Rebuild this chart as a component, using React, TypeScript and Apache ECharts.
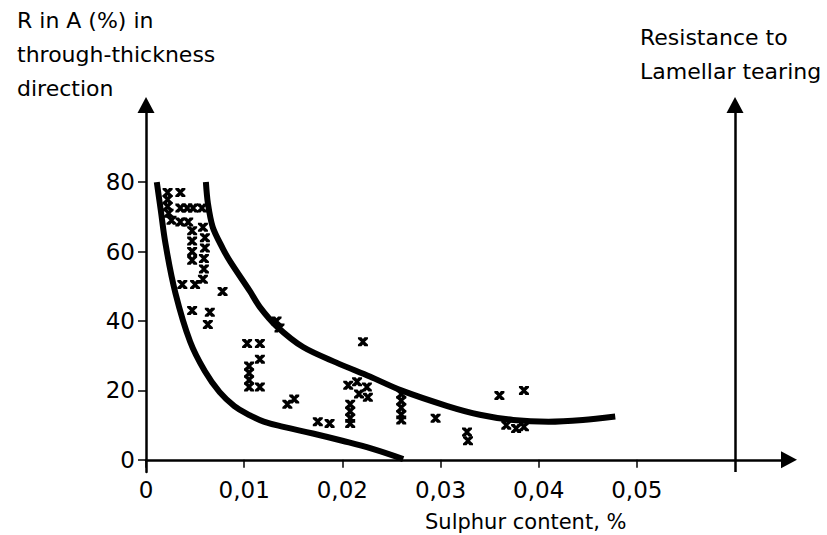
import React, { useEffect, useRef } from "react";
import * as echarts from "echarts";

const xTicks = [0, 0.01, 0.02, 0.03, 0.04, 0.05];
const yTicks = [0, 20, 40, 60, 80];
const tearingAxisX = 0.06;

const lowerCurve: [number, number][] = [
  [0.0011, 80], [0.0015, 72], [0.002, 62], [0.003, 48], [0.0045, 34],
  [0.006, 25.5], [0.0075, 19.5], [0.009, 15.5], [0.0106, 12.8], [0.012, 11],
  [0.014, 9.5], [0.017, 7.6], [0.02, 5.5], [0.023, 3.2], [0.0262, 0.2],
];

const upperCurve: [number, number][] = [
  [0.0061, 80], [0.0063, 74], [0.0068, 67], [0.0078, 61], [0.0086, 57],
  [0.0106, 48.5], [0.0116, 44], [0.0133, 38.5], [0.016, 32.5], [0.0194, 28],
  [0.0228, 24], [0.026, 20], [0.0307, 15.5], [0.034, 13], [0.0374, 11.5],
  [0.041, 11], [0.0445, 11.5], [0.0478, 12.5],
];

const measurements: [number, number][] = [
  [0.0022, 77], [0.0022, 75], [0.0022, 73], [0.0023, 71], [0.0035, 77],
  [0.0035, 72.5], [0.0042, 72.5], [0.0048, 72.5], [0.0057, 72.5],
  [0.0026, 69], [0.0035, 68.5], [0.0043, 68.5],
  [0.0047, 66], [0.0047, 63], [0.0047, 60], [0.0047, 57.5],
  [0.0058, 67], [0.006, 64], [0.006, 61], [0.0059, 58], [0.0059, 55], [0.0058, 52],
  [0.0037, 50.5], [0.005, 50.5], [0.0078, 48.5], [0.0047, 43], [0.0065, 42.5], [0.0063, 39],
  [0.0133, 40], [0.0136, 38],
  [0.0103, 33.5], [0.0116, 33.5], [0.0116, 29], [0.0105, 27], [0.0105, 25], [0.0105, 23],
  [0.0105, 21], [0.0116, 21],
  [0.0144, 16], [0.0151, 17.5], [0.0175, 11], [0.0187, 10.5],
  [0.0221, 34], [0.0206, 21.5], [0.0215, 22.5], [0.0217, 19], [0.0225, 21], [0.0226, 18],
  [0.0208, 16], [0.0208, 14], [0.0208, 12], [0.0208, 10.5],
  [0.026, 19], [0.026, 17], [0.026, 15], [0.026, 13], [0.026, 11.5],
  [0.0295, 12], [0.0327, 8], [0.0328, 5.5], [0.036, 18.5], [0.0385, 20],
  [0.0367, 10], [0.0377, 9], [0.0385, 9.5],
];

const yTitle = "R in A (%) in\nthrough-thickness\ndirection";
const rightTitle = "Resistance to\nLamellar tearing";
const xTitle = "Sulphur content, %";

const FONT = "DejaVu Sans";
const X_MARK = "path://M0,0 L3.5,0 L5,2 L6.5,0 L10,0 L10,2 L7,5 L10,8 L10,10 L6.5,10 L5,8 L3.5,10 L0,10 L0,8 L3,5 L0,2 Z";

export default function App() {
  const ref = useRef<HTMLDivElement>(null);
  useEffect(() => {
    if (!ref.current) return;
    const chart = echarts.init(ref.current, null, { renderer: "svg" });
    const axisLine = { show: true, lineStyle: { color: "#000", width: 2.5 } };
    chart.setOption({
      animation: false,
      backgroundColor: "#fff",
      grid: { left: 146, right: 38, top: 105, bottom: 63 },
      xAxis: {
        type: "value",
        min: 0,
        max: 0.0655,
        splitLine: { show: false },
        axisLine: { ...axisLine, onZero: true, symbol: ["none", "triangle"], symbolSize: [17, 16] },
        axisTick: { show: true, length: 8, inside: false, customValues: xTicks, lineStyle: { color: "#000", width: 1.5 } },
        axisLabel: {
          customValues: xTicks,
          margin: 6,
          color: "#000",
          fontFamily: FONT,
          fontSize: 23,
          formatter: (v: number) => (v === 0 ? "0" : v.toFixed(2).replace(".", ",")),
        },
      },
      yAxis: {
        type: "value",
        min: -3.5,
        max: 102.2,
        splitLine: { show: false },
        axisLine: { ...axisLine, onZero: false, symbol: ["none", "triangle"], symbolSize: [17, 16] },
        axisTick: { show: true, length: 8, inside: false, customValues: yTicks, lineStyle: { color: "#000", width: 1.5 } },
        axisLabel: {
          customValues: yTicks,
          margin: 11,
          color: "#000",
          fontFamily: FONT,
          fontSize: 23,
        },
      },
      series: [
        {
          type: "line",
          data: lowerCurve,
          smooth: 0.4,
          showSymbol: false,
          silent: true,
          lineStyle: { color: "#000", width: 6 },
        },
        {
          type: "line",
          data: upperCurve,
          smooth: 0.3,
          showSymbol: false,
          silent: true,
          lineStyle: { color: "#000", width: 6 },
        },
        {
          type: "scatter",
          data: measurements,
          symbol: X_MARK,
          symbolSize: [10, 9],
          itemStyle: { color: "#000", opacity: 1 },
          clip: false,
          silent: true,
          markLine: {
            silent: true,
            symbol: ["none", "triangle"],
            symbolSize: [17, 16],
            label: { show: false },
            lineStyle: { color: "#000", width: 2.5, type: "solid", opacity: 1 },
            data: [[{ coord: [tearingAxisX, -3.5] }, { coord: [tearingAxisX, 102.2] }]],
          },
        },
      ],
      graphic: [
        {
          type: "text",
          left: 17,
          top: 3,
          style: { text: yTitle, fill: "#000", font: `22px '${FONT}'`, lineHeight: 34 },
        },
        {
          type: "text",
          left: 640,
          top: 20,
          style: { text: rightTitle, fill: "#000", font: `22px '${FONT}'`, lineHeight: 34 },
        },
        {
          type: "text",
          left: 425,
          top: 509,
          style: { text: xTitle, fill: "#000", font: `21px '${FONT}'`, lineHeight: 26 },
        },
      ],
    });
    return () => chart.dispose();
  }, []);
  return (
    <div
      ref={ref}
      style={{ position: "fixed", left: 0, top: 0, width: 827, height: 535, background: "#fff" }}
    />
  );
}
